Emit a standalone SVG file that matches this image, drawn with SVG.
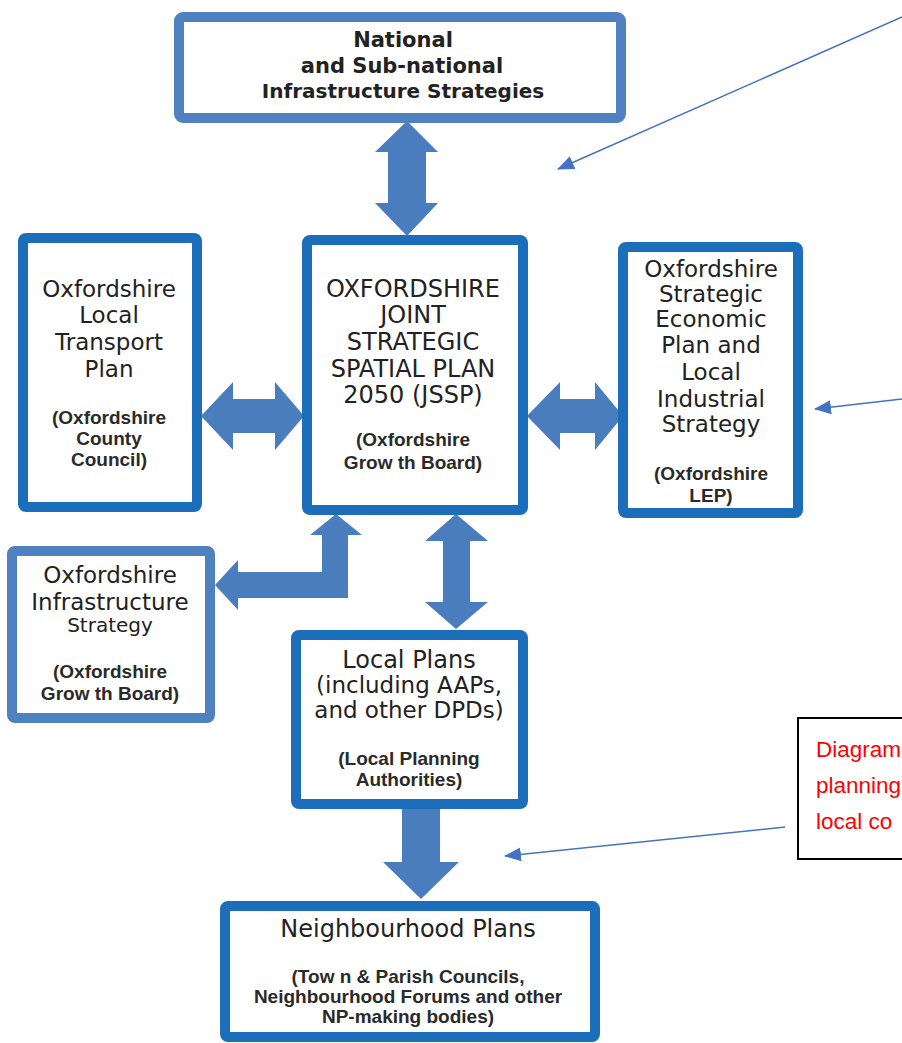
<svg xmlns="http://www.w3.org/2000/svg" width="902" height="1043" viewBox="0 0 902 1043">
<defs>
<style>
.box{fill:#ffffff;stroke:#1C6DBA;stroke-width:10}
.boxm{fill:#ffffff;stroke:#4F80C0;stroke-width:10}
.arr{fill:#4A7DBE}
.t{font-family:"DejaVu Sans",Verdana,sans-serif;fill:#222;text-anchor:middle}
.s{font-family:"Liberation Sans",Arial,sans-serif;font-weight:bold;fill:#2a2a2a;text-anchor:middle;font-size:19px}
.ptr{stroke:#4472C4;stroke-width:1.5;fill:none}
.red{font-family:"Liberation Sans",Arial,sans-serif;fill:#FF0000;font-size:22.5px}
</style>
<marker id="ah" viewBox="0 0 17 14" refX="16" refY="7" markerWidth="17" markerHeight="14" markerUnits="userSpaceOnUse" orient="auto">
<path d="M0,0 L17,7 L0,14 z" fill="#4472C4"/>
</marker>
</defs>
<rect width="902" height="1043" fill="#ffffff"/>

<g id="connectors">
<polygon class="arr" points="407,121 438,152 426,152 426,203 438,203 407,236 375,203 388,203 388,152 375,152"/>
<polygon class="arr" points="201,416 233,382 233,399 275,399 275,382 304,416 275,450 275,433 233,433 233,450"/>
<polygon class="arr" points="527,416 560,382 560,399 595,399 595,382 623,416 595,450 595,433 560,433 560,450"/>
<polygon class="arr" points="215,585 238,560 238,572 322,572 322,535 310,535 336,514 362,535 348,535 348,598 238,598 238,610"/>
<polygon class="arr" points="456,514 488,541 470,541 470,602 488,602 456,629 425,602 443,602 443,541 425,541"/>
<polygon class="arr" points="402,806 440,806 440,862 459,862 421,899 383,862 402,862"/>
<line class="ptr" x1="902" y1="17" x2="558" y2="169" marker-end="url(#ah)"/>
<line class="ptr" x1="902" y1="399" x2="815" y2="409" marker-end="url(#ah)"/>
<line class="ptr" x1="785" y1="827" x2="505" y2="856" marker-end="url(#ah)"/>
</g>

<g id="national">
<rect class="boxm" x="179" y="17" width="442" height="101" rx="4"/>
<text class="t" x="403" y="47" font-size="21" font-weight="bold">National</text>
<text class="t" x="402" y="73" font-size="21" font-weight="bold">and Sub-national</text>
<text class="t" x="403" y="98" font-size="20" font-weight="bold">Infrastructure Strategies</text>
</g>

<g id="jssp">
<rect class="box" x="307" y="240" width="216" height="270" rx="3"/>
<text class="t" x="413" y="297" font-size="24">OXFORDSHIRE</text>
<text class="t" x="413" y="323" font-size="24">JOINT</text>
<text class="t" x="413" y="350" font-size="24">STRATEGIC</text>
<text class="t" x="413" y="377" font-size="24">SPATIAL PLAN</text>
<text class="t" x="413" y="403" font-size="24">2050 (JSSP)</text>
<text class="s" x="413" y="446">(Oxfordshire</text>
<text class="s" x="413" y="469">Grow th Board)</text>
</g>

<g id="transport">
<rect class="box" x="23" y="238" width="174" height="269" rx="3"/>
<text class="t" x="109" y="297" font-size="23">Oxfordshire</text>
<text class="t" x="109" y="323" font-size="23">Local</text>
<text class="t" x="109" y="350" font-size="23">Transport</text>
<text class="t" x="109" y="377" font-size="23">Plan</text>
<text class="s" x="109" y="424">(Oxfordshire</text>
<text class="s" x="109" y="445">County</text>
<text class="s" x="109" y="466">Council)</text>
</g>

<g id="economic">
<rect class="box" x="623" y="247" width="175" height="266" rx="3"/>
<text class="t" x="711" y="277" font-size="23">Oxfordshire</text>
<text class="t" x="711" y="302" font-size="23">Strategic</text>
<text class="t" x="711" y="327" font-size="23">Economic</text>
<text class="t" x="711" y="353" font-size="23">Plan and</text>
<text class="t" x="711" y="380" font-size="23">Local</text>
<text class="t" x="711" y="407" font-size="23">Industrial</text>
<text class="t" x="711" y="432" font-size="23">Strategy</text>
<text class="s" x="711" y="480">(Oxfordshire</text>
<text class="s" x="711" y="502">LEP)</text>
</g>

<g id="infrastructure">
<rect class="boxm" x="12" y="551" width="198" height="167" rx="3"/>
<text class="t" x="110" y="583" font-size="23">Oxfordshire</text>
<text class="t" x="110" y="610" font-size="23">Infrastructure</text>
<text class="t" x="110" y="632" font-size="20">Strategy</text>
<text class="s" x="110" y="678">(Oxfordshire</text>
<text class="s" x="110" y="700">Grow th Board)</text>
</g>

<g id="localplans">
<rect class="box" x="296" y="635" width="227" height="169" rx="3"/>
<text class="t" x="409" y="668" font-size="24">Local Plans</text>
<text class="t" x="409" y="693" font-size="23">(including AAPs,</text>
<text class="t" x="409" y="718" font-size="23">and other DPDs)</text>
<text class="s" x="409" y="765">(Local Planning</text>
<text class="s" x="409" y="786">Authorities)</text>
</g>

<g id="neighbourhood">
<rect class="box" x="225" y="906" width="370" height="131" rx="3"/>
<text class="t" x="408" y="937" font-size="24">Neighbourhood Plans</text>
<text class="s" x="408" y="983" font-size="20">(Tow n &amp; Parish Councils,</text>
<text class="s" x="408" y="1003" font-size="20">Neighbourhood Forums and other</text>
<text class="s" x="408" y="1023" font-size="20">NP-making bodies)</text>
</g>

<g id="note">
<rect x="798" y="718" width="120" height="141" fill="#ffffff" stroke="#000000" stroke-width="2"/>
<text class="red" x="816" y="757">Diagram</text>
<text class="red" x="816" y="793">planning</text>
<text class="red" x="816" y="829">local co</text>
</g>
</svg>
